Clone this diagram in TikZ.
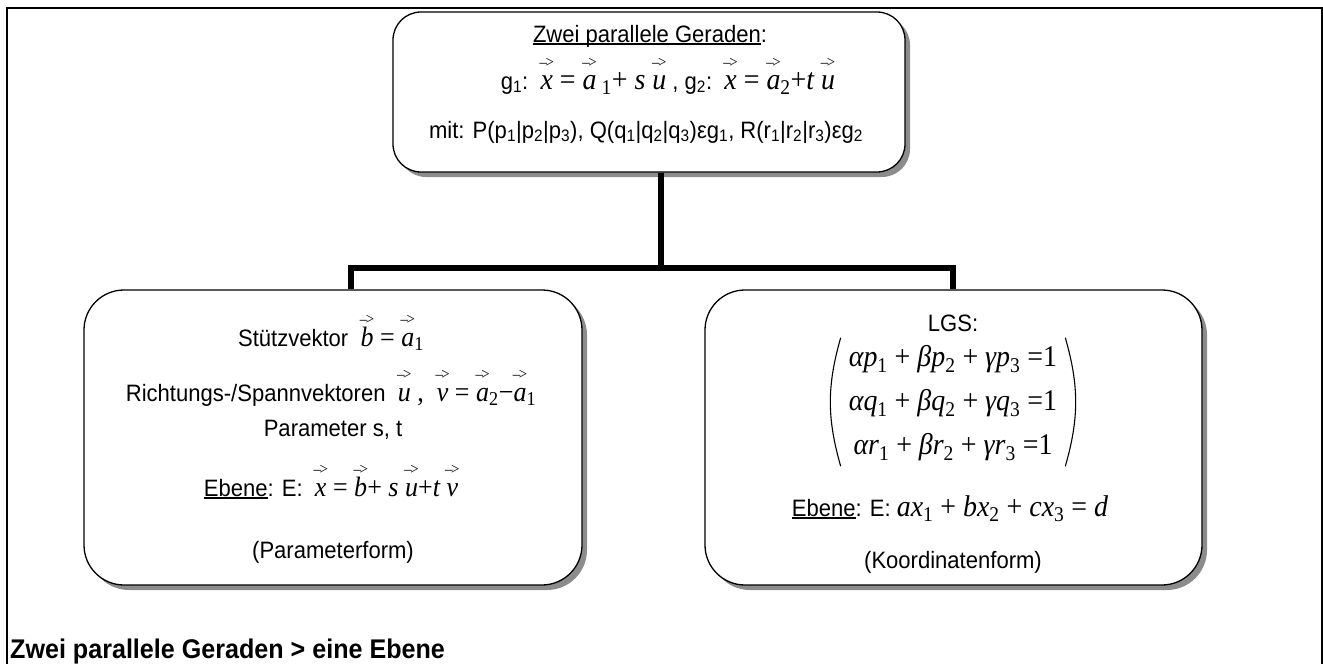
\documentclass[tikz,border=0pt]{standalone}
\usepackage{fontspec}
\setmainfont{Liberation Sans}[FakeStretch=0.93]
\newfontfamily\tms{Liberation Serif}[FakeStretch=0.93]
\usetikzlibrary{shadows}

% fonts for the formula parts
\newcommand\mth{\fontsize{30}{34}\tms\selectfont}
\newcommand\mthb{\fontsize{28}{32}\tms\selectfont}
\newcommand\mthc{\fontsize{30}{38}\tms\selectfont}
% vector: a small "->" set above the letter
\newcommand\vv[1]{\leavevmode\setbox0\hbox{#1}\hbox to\wd0{\hss\raisebox{22pt}[0pt][0pt]{\fontsize{16}{16}\tms\upshape\selectfont –\kern-1.5pt>}\hss}\kern-\wd0\box0}
% underline with a fixed rule
\newcommand\ul[1]{\leavevmode\setbox0\hbox{#1}\rlap{\rule[-3pt]{\wd0}{1.6pt}}\box0}
% equals sign inside formulas
\newcommand\eqs{\upshape\ =\ }

\tikzset{
  box/.style={draw, line width=1.3pt, fill=white, inner sep=0pt,
    drop shadow={shadow xshift=5pt, shadow yshift=-5pt, fill=black!45, opacity=1}},
  txt/.style={inner sep=0pt, anchor=base, font=\fontsize{23.7}{28}\selectfont},
  conn/.style={line width=6pt, line join=miter},
  paren/.style={line width=1.1pt},
}

\begin{document}
\begin{tikzpicture}[x=1pt,y=-1pt]
\useasboundingbox (0,0) rectangle (1323,664);

% outer frame, open at the bottom
\draw[line width=2pt] (7,664) -- (7,8) -- (1322,8) -- (1322,664);

% junction points of the tree
\coordinate (j)  at (661,268);
\coordinate (lt) at (351,268);
\coordinate (rt) at (953,268);

% boxes
\node[box, rounded corners=28pt, minimum width=512pt, minimum height=160pt] (top) at (649,92) {};
\node[box, rounded corners=40pt, minimum width=498pt, minimum height=295pt] (L) at (333,437.5) {};
\node[box, rounded corners=40pt, minimum width=497pt, minimum height=295pt] (R) at (953.5,437.5) {};

% connectors
\draw[conn] (top.south -| j) -- (j);
\draw[conn] (L.north -| lt) -- (lt) -- (rt) -- (R.north -| rt);

% top box
\node[txt] (t1) at (650,42) {\ul{Zwei parallele Geraden}:};
\node[txt] (t2) at (668,89) {g\textsubscript{1}:\ \ {\mth\vv{\itshape x}\eqs\vv{\itshape a}\,\textsubscript{1}+\ {\itshape s}\ \vv{\itshape u}} , g\textsubscript{2}:\ \ {\mth\vv{\itshape x}\eqs\vv{\itshape a}\textsubscript{2}+{\itshape t}\ \vv{\itshape u}}};
\node[txt] (t3) at (646,138) {mit: P(p\textsubscript{1}|p\textsubscript{2}|p\textsubscript{3}), Q(q\textsubscript{1}|q\textsubscript{2}|q\textsubscript{3})εg\textsubscript{1}, R(r\textsubscript{1}|r\textsubscript{2}|r\textsubscript{3})εg\textsubscript{2}};

% left box: parameter form
\node[txt] (l1) at (331,346) {Stützvektor\ \ {\mthb\vv{\itshape b}\eqs\vv{\itshape a}\textsubscript{1}}};
\node[txt] (l2) at (331,401) {Richtungs-/Spannvektoren\ \ {\mthb\vv{\itshape u}\ ,\ \ \vv{\itshape v}\eqs\vv{\itshape a}\textsubscript{2}−\vv{\itshape a}\textsubscript{1}}};
\node[txt] (l3) at (333,436) {Parameter s, t};
\node[txt] (l4) at (331,496) {\ul{Ebene}: E:\ \ {\mthb\vv{\itshape x}\eqs\vv{\itshape b}+\ {\itshape s}\ \vv{\itshape u}+{\itshape t}\ \vv{\itshape v}}};
\node[txt] (l5) at (333,558) {(Parameterform)};

% right box: coordinate form
\node[txt] (r1) at (953,331) {LGS:};
\node[inner xsep=8pt, inner ysep=0pt] (mx) at (953,402)
  {\mthc\def\arraystretch{1.16}\setlength\arraycolsep{0pt}%
   $\begin{array}{c}
   \hbox{\itshape αp\textsubscript{\upshape 1} \upshape+ \itshape βp\textsubscript{\upshape 2} \upshape+ \itshape γp\textsubscript{\upshape 3} \upshape=1}\\
   \hbox{\itshape αq\textsubscript{\upshape 1} \upshape+ \itshape βq\textsubscript{\upshape 2} \upshape+ \itshape γq\textsubscript{\upshape 3} \upshape=1}\\
   \hbox{\itshape αr\textsubscript{\upshape 1} \upshape+ \itshape βr\textsubscript{\upshape 2} \upshape+ \itshape γr\textsubscript{\upshape 3} \upshape=1}
   \end{array}$};
\draw[paren] ([yshift=-2pt]mx.north west) to[bend right=16] ([yshift=2pt]mx.south west);
\draw[paren] ([yshift=-2pt]mx.north east) to[bend left=16] ([yshift=2pt]mx.south east);
\node[txt] (r3) at (950,516) {\ul{Ebene}: E: {\mthc\itshape ax\textsubscript{\upshape 1} \upshape+ \itshape bx\textsubscript{\upshape 2} \upshape+ \itshape cx\textsubscript{\upshape 3}\eqs\itshape d}};
\node[txt] (r4) at (953,568) {(Koordinatenform)};

% caption
\node[anchor=base west, inner sep=0pt, font=\bfseries\fontsize{27}{32}\selectfont] (title) at (10,658) {Zwei parallele Geraden > eine Ebene};
\end{tikzpicture}
\end{document}
